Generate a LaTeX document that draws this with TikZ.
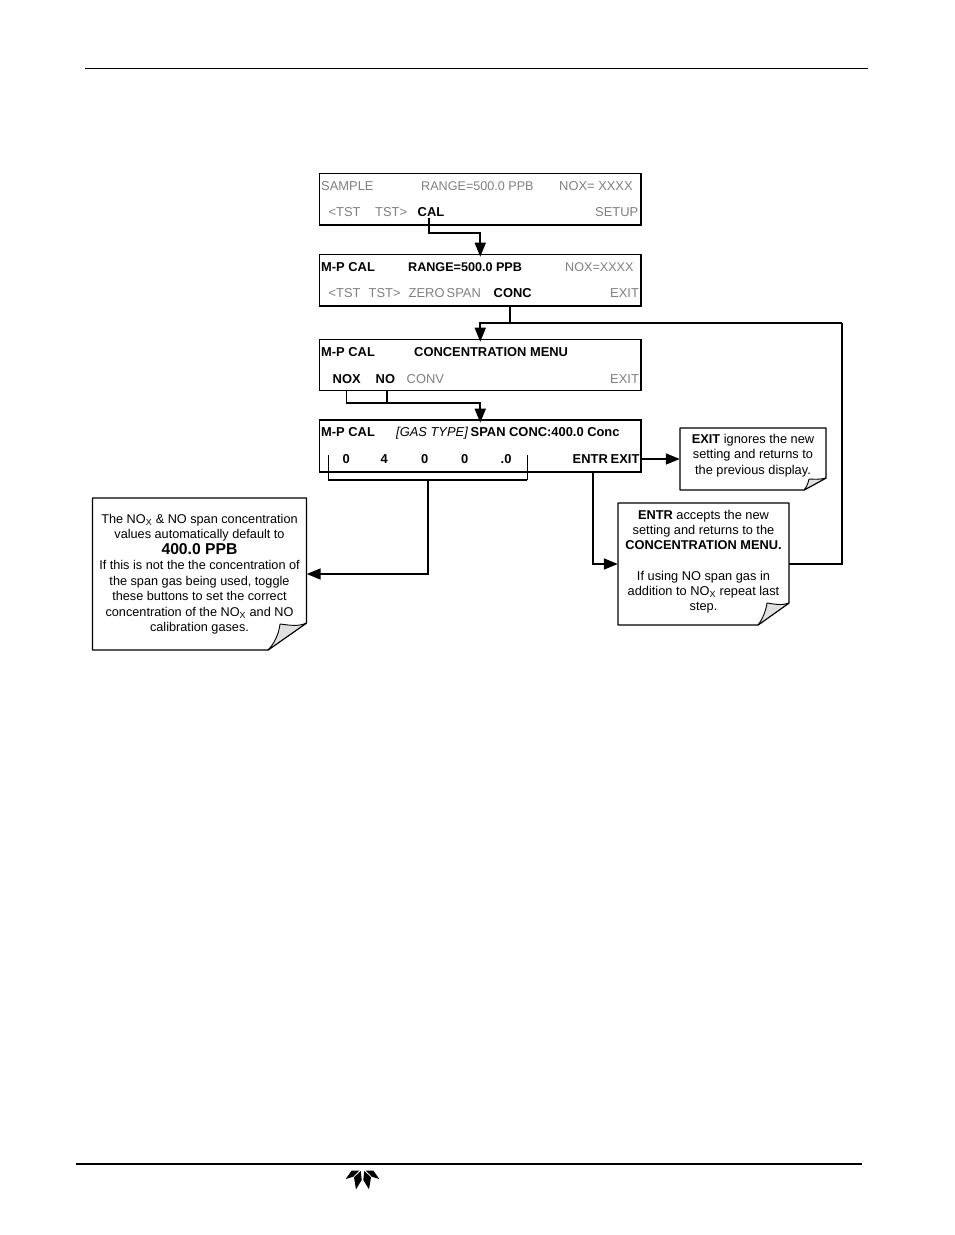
\documentclass[tikz,border=0pt]{standalone}
\usepackage{fontspec}
\setmainfont{Liberation Sans}
\usetikzlibrary{arrows.meta,calc}
\definecolor{dim}{gray}{0.5}
\tikzset{
  x=1pt,y=-1pt,
  panel/.style={draw=black,line width=1.1pt,fill=white,minimum width=321.5pt,minimum height=51.5pt,inner sep=0pt},
  lab/.style={anchor=base west,inner sep=0pt,font=\fontsize{12.9}{15}\selectfont},
  off/.style={lab,text=dim},
  offr/.style={lab,text=dim,font=\fontsize{12.6}{15}\selectfont},
  on/.style={lab,font=\fontsize{12.9}{15}\selectfont\bfseries,text=black},
  onr/.style={lab,font=\fontsize{12.6}{15}\selectfont\bfseries,text=black},
  wire/.style={draw=black,line width=1.6pt},
  arr/.style={wire,-{Triangle[length=14pt,width=11pt]}},
  arrin/.style={arr,shorten >=-3pt},
  tick/.style={draw=black,line width=1pt},
  edge/.style={draw=black,line width=1.7pt},
  sheet/.style={draw=black,line width=1.3pt,fill=white,line join=bevel},
  flap/.style={draw=black,line width=0.9pt,fill=black!12,line join=bevel},
  noteanchor/.style={inner sep=0pt,draw=none},
  notetext/.style={inner sep=0pt,align=center,font=\fontsize{12.8}{15.2}\selectfont},
  rule/.style={draw=black},
}
\begin{document}
\begin{tikzpicture}
\useasboundingbox (0,0) rectangle (954,1235);
\draw[rule,line width=0.9pt] (85,68) -- (868,68);
\draw[rule,line width=1.8pt] (76,1164) -- (862,1164);

% panels
\node[panel] (p1) at (480.25,199.25) {};
\node[panel] (p2) at (480.25,280) {};
\node[panel] (p3) at (480.25,365) {};
\node[panel] (p4) at (480.25,446) {};
\draw[edge] (p1.south west) -- (p1.south east);
\draw[edge] (p2.south west) -- (p2.south east);
\draw[edge] (p4.south west) -- (p4.south east);
\draw[edge] (p4.north west) -- (p4.north east);

% panel 1
\node[off] (a1) at (321,190) {SAMPLE};
\node[offr] (a2) at (421,190) {RANGE=500.0 PPB};
\node[off] (a3) at (559,190) {NOX= XXXX};
\node[off] (a4) at (328.5,216) {<TST};
\node[off] (a5) at (375,216) {TST>};
\node[on]  (cal) at (417.5,216) {CAL};
\node[off] (a7) at (595,216) {SETUP};
% panel 2
\node[on]  (b1) at (321,271) {M-P CAL};
\node[onr]  (b2) at (408,271) {RANGE=500.0 PPB};
\node[offr] (b3) at (565,271) {NOX=XXXX};
\node[off] (b4) at (328.5,297) {<TST};
\node[off] (b5) at (368.5,297) {TST>};
\node[off] (b6) at (408.5,297) {ZERO};
\node[off] (b7) at (446.5,297) {SPAN};
\node[on]  (conc) at (493.5,297) {CONC};
\node[off] (b9) at (610,297) {EXIT};
% panel 3
\node[on]  (c1) at (321,356) {M-P CAL};
\node[on]  (c2) at (414,356) {CONCENTRATION MENU};
\node[on]  (nox) at (332.5,383) {NOX};
\node[on]  (no) at (375.5,383) {NO};
\node[off] (c5) at (406.5,383) {CONV};
\node[off] (c6) at (610,383) {EXIT};
% panel 4
\node[on]  (d1) at (321,436) {M-P CAL};
\node[lab,font=\fontsize{12.9}{15}\selectfont\itshape] (d2) at (396,436) {[GAS TYPE]};
\node[on]  (d3) at (470.5,436) {SPAN CONC:400.0 Conc};
\node[on]  (d4) at (342.5,463) {0};
\node[on]  (d5) at (380.5,463) {4};
\node[on]  (d6) at (421,463) {0};
\node[on]  (d7) at (461,463) {0};
\node[on]  (d8) at (500.5,463) {.0};
\node[on]  (entr) at (572.5,463) {ENTR};
\node[on]  (exit) at (610.5,463) {EXIT};

% note sheets
\node[noteanchor,minimum width=146pt,minimum height=62pt] (nexit) at (753,459) {};
\draw[sheet] (680,428) -- (826,428) -- (826,478) -- (804,490) -- (680,490) -- cycle;
\draw[flap] (826,478) .. controls (818,480) and (813,479) .. (809,479) .. controls (808,484) and (806,488) .. (804,490) -- cycle;
\node[noteanchor,minimum width=171pt,minimum height=122pt] (nentr) at (703.5,564) {};
\draw[sheet] (618,503) -- (789,503) -- (789,603) -- (758,625) -- (618,625) -- cycle;
\draw[flap] (789,603) .. controls (782,606) and (774,604) .. (767,603) .. controls (766,611) and (762,620) .. (758,625) -- cycle;
\node[noteanchor,minimum width=214pt,minimum height=152pt] (nleft) at (199.5,574) {};
\draw[sheet] (92.5,498) -- (306.5,498) -- (306.5,623) -- (268,650) -- (92.5,650) -- cycle;
\draw[flap] (306.5,623) .. controls (298,627) and (289,625) .. (280,624) .. controls (279,634) and (274,644) .. (268,650) -- cycle;

% note texts
\node[notetext] (texit) at (753,455.5) {\textbf{EXIT} ignores the new\\setting and returns to\\the previous display.};
\node[notetext] (tentr) at (703.5,561.5) {\textbf{ENTR} accepts the new\\setting and returns to the\\\textbf{CONCENTRATION MENU.}\\[15.2pt]If using NO span gas in\\addition to NO\textsubscript{X} repeat last\\step.};
\node[notetext,font=\fontsize{12.7}{15.5}\selectfont] (tleft) at (199.5,574) {The NO\textsubscript{X} \& NO span concentration\\values automatically default to\\{\fontsize{15.7}{17}\selectfont\bfseries 400.0 PPB}\\If this is not the the concentration of\\the span gas being used, toggle\\these buttons to set the correct\\concentration of the NO\textsubscript{X} and NO\\calibration gases.};

% junction coordinates
\coordinate (j1) at (480.25,233);
\coordinate (j2) at (510,323);
\coordinate (j2a) at (480.25,323);
\coordinate (j3) at (842,323);
\coordinate (j4) at (842,564);
\coordinate (j5) at (346.5,403);
\coordinate (j6) at (480.25,403);
\coordinate (j7) at (387,403);
\coordinate (br1) at (328,455);
\coordinate (br2) at (328,480);
\coordinate (br3) at (527,480);
\coordinate (br4) at (527,455);
\coordinate (br5) at (428,480);
\coordinate (br6) at (428,574);
\coordinate (e1) at (593,564);
\coordinate (cs) at (429,218);

% connectors
\draw[arrin] (cs) |- (j1) -- (p2.north);
\draw[wire] (p2.south -| j2) -- (j2);
\draw[arrin] (j3) -- (j2a) -- (p3.north);
\draw[wire] (j3) -- (j4) -- (nentr.east);
\draw[wire] (p3.south -| j5) -- (j5) -- (j7);
\draw[wire] (p3.south -| j7) -- (j7);
\draw[arrin] (j7) -- (j6) -- (p4.north);
\draw[arr] (p4.east |- nexit.west) -- (nexit.west);
\draw[tick] (br1) -- (br2);
\draw[tick] (br3) -- (br4);
\draw[wire] (br2) -- (br3);
\draw[arr] (br5) -- (br6) -- (nleft.east);
\draw[arr] (p4.south -| e1) -- (e1) -- (nentr.west);

% logo
\fill (345.7,1179) -- (351.7,1170.5) -- (359.3,1170.5) -- (353.3,1176.7) -- cycle;
\fill (354,1177.3) -- (360.7,1171) -- (361.7,1180) -- (356,1189.3) -- cycle;
\fill (379.3,1179) -- (373.3,1170.5) -- (365.7,1170.5) -- (371.7,1176.7) -- cycle;
\fill (371,1177.3) -- (364.3,1171) -- (363.3,1180) -- (369,1189.3) -- cycle;
\end{tikzpicture}
\end{document}
